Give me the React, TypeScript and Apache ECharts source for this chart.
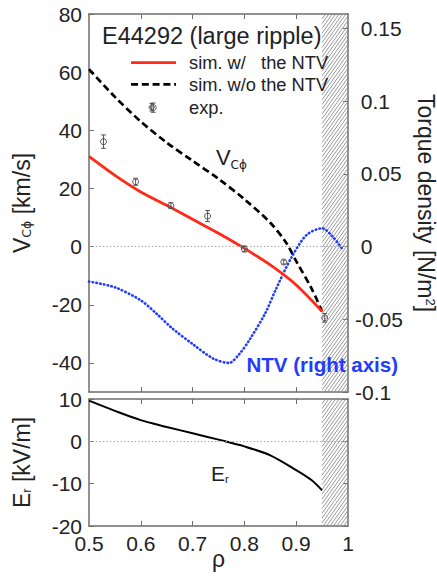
import { useEffect, useRef } from 'react';
import * as echarts from 'echarts';

// ---------- data ----------
const RHO_SIM = [0.5, 0.55, 0.6, 0.65, 0.7, 0.75, 0.8, 0.85, 0.9, 0.95];
const V_WITH_NTV = [31, 24.5, 18.8, 14.2, 9.4, 4.6, -0.6, -6.3, -13.2, -22.3];

const RHO_NO = [0.5, 0.55, 0.6, 0.65, 0.7, 0.75, 0.8, 0.85, 0.88, 0.9, 0.93, 0.95];
const V_WITHOUT_NTV = [61, 51.5, 43, 35.8, 29.5, 23.3, 16.3, 8.2, 1.5, -5, -14.5, -22.3];

const RHO_NTV = [0.5, 0.55, 0.6, 0.63, 0.66, 0.7, 0.74, 0.77, 0.79, 0.81, 0.84, 0.86, 0.89, 0.92, 0.95, 0.97, 0.99];
const NTV = [-0.024, -0.028, -0.037, -0.046, -0.056, -0.067, -0.077, -0.08, -0.074, -0.064, -0.046, -0.03, -0.008, 0.008, 0.0126, 0.007, -0.002];

const EXP_RHO = [0.528, 0.59, 0.624, 0.658, 0.729, 0.8, 0.876, 0.955];
const EXP_V = [36.1, 22.3, 47.8, 14.1, 10.5, -0.8, -5.3, -24.5];
const EXP_ERR = [2.3, 1.2, 1.6, 1.0, 1.9, 1.0, 0.7, 1.5];

const RHO_ER = [0.5, 0.55, 0.6, 0.65, 0.7, 0.75, 0.8, 0.85, 0.9, 0.93, 0.95];
const ER = [9.6, 7.2, 5.0, 3.4, 1.9, 0.4, -1.2, -3.3, -6.8, -9.2, -11.6];

const HATCH_RANGE = [0.95, 1];

const V_TICKS = [-40, -20, 0, 20, 40, 60, 80];
const T_TICKS = [-0.1, -0.05, 0, 0.05, 0.1, 0.15];
const ER_TICKS = [-20, -10, 0, 10];
const RHO_TICKS = [0.6, 0.7, 0.8, 0.9];

// ---------- style ----------
const FONT = '"Liberation Sans", Arial, Helvetica, sans-serif';
const SUBFONT = '"DejaVu Sans", "Liberation Sans", sans-serif';
const TXT = '#222';
const AX = '#6e6e6e';
const RED = '#ff2a17';
const BLUE = '#1f3cff';
const TICK_FS = 21;
const NAME_FS = 23;
const SMOOTH = 0.3;

const zip = (a: number[], b: number[]) => a.map((x, i) => [x, b[i]]);

const hatchItem = (params: any, api: any) => {
  const cs = params.coordSys;
  const x0 = api.coord([api.value(0), 0])[0];
  const x1 = api.coord([api.value(1), 0])[0];
  const y0 = cs.y;
  const y1 = cs.y + cs.height;
  const k = 1.4;
  const step = 3.4;
  const children: any[] = [];
  for (let c = y0 + k * x0; c <= y1 + k * x1 + 0.01; c += step * k) {
    const pa = Math.max(x0, (c - y1) / k);
    const pb = Math.min(x1, (c - y0) / k);
    if (pb <= pa) continue;
    children.push({
      type: 'line',
      shape: { x1: pa, y1: c - k * pa, x2: pb, y2: c - k * pb },
      style: { stroke: '#8c8c8c', lineWidth: 0.9 },
    });
  }
  return { type: 'group', children };
};

const expItem = (params: any, api: any) => {
  const x = api.value(0);
  const v = api.value(1);
  const e = api.value(2);
  const c = api.coord([x, v]);
  const t = api.coord([x, v + e]);
  const b = api.coord([x, v - e]);
  const col = '#555';
  return {
    type: 'group',
    children: [
      { type: 'line', shape: { x1: c[0], y1: t[1], x2: c[0], y2: b[1] }, style: { stroke: col, lineWidth: 1 } },
      { type: 'line', shape: { x1: c[0] - 2.4, y1: t[1], x2: c[0] + 2.4, y2: t[1] }, style: { stroke: col, lineWidth: 1 } },
      { type: 'line', shape: { x1: c[0] - 2.4, y1: b[1], x2: c[0] + 2.4, y2: b[1] }, style: { stroke: col, lineWidth: 1 } },
      { type: 'circle', shape: { cx: c[0], cy: c[1], r: 3 }, style: { stroke: col, fill: 'none', lineWidth: 1 } },
    ],
  };
};

const xAxisBase = (gridIndex: number, position: string, showLabel: boolean) => ({
  type: 'value',
  gridIndex,
  position,
  min: 0.5,
  max: 1,
  interval: 0.1,
  axisLine: { show: true, onZero: false, lineStyle: { color: AX, width: 1.5 } },
  axisTick: { show: true, inside: true, length: 5, customValues: RHO_TICKS, lineStyle: { color: AX, width: 1 } },
  axisLabel: {
    show: showLabel,
    margin: 7,
    fontSize: TICK_FS,
    fontFamily: FONT,
    color: TXT,
    formatter: (v: number) => String(Math.round(v * 10) / 10),
  },
  splitLine: { show: false },
});

export default function App() {
  const ref = useRef<HTMLDivElement>(null);

  useEffect(() => {
    if (!ref.current) return;
    const chart = echarts.init(ref.current, undefined, { renderer: 'svg' });

    const option: any = {
      animation: false,
      backgroundColor: '#ffffff',
      grid: [
        { left: 89, top: 14, width: 259, height: 378, outerBoundsMode: 'none' },
        { left: 89, top: 399, width: 259, height: 127, outerBoundsMode: 'none' },
      ],
      xAxis: [
        xAxisBase(0, 'bottom', false),
        xAxisBase(0, 'top', false),
        {
          ...xAxisBase(1, 'bottom', true),
          name: 'ρ',
          nameLocation: 'middle',
          nameGap: 21,
          nameMoveOverlap: false,
          nameTextStyle: { fontSize: NAME_FS, fontFamily: FONT, color: TXT },
        },
        xAxisBase(1, 'top', false),
      ],
      yAxis: [
        {
          type: 'value',
          gridIndex: 0,
          position: 'left',
          min: -50,
          max: 80,
          axisLine: { show: true, onZero: false, lineStyle: { color: AX, width: 1.5 } },
          axisTick: { show: true, inside: true, length: 5, customValues: V_TICKS, lineStyle: { color: AX } },
          axisLabel: {
            customValues: V_TICKS,
            margin: 7,
            fontSize: TICK_FS,
            fontFamily: FONT,
            color: TXT,
            formatter: (v: number) => String(v),
          },
          splitLine: { show: false },
          name: '{v|V}{s|Cϕ}{v| [km/s]}',
          nameLocation: 'middle',
          nameGap: 56,
          nameMoveOverlap: false,
          nameTextStyle: {
            fontSize: NAME_FS,
            fontFamily: FONT,
            color: TXT,
            rich: {
              v: { fontSize: NAME_FS, fontFamily: FONT, color: TXT },
              s: { fontSize: 12.5, fontFamily: SUBFONT, color: TXT, verticalAlign: 'bottom', lineHeight: 6 },
            },
          },
        },
        {
          type: 'value',
          gridIndex: 0,
          position: 'right',
          min: -0.1,
          max: 0.16,
          axisLine: { show: true, onZero: false, lineStyle: { color: AX, width: 1.5 } },
          axisTick: { show: true, inside: true, length: 5, customValues: T_TICKS, lineStyle: { color: AX } },
          axisLabel: {
            customValues: T_TICKS,
            margin: 7,
            fontSize: TICK_FS,
            fontFamily: FONT,
            color: TXT,
            formatter: (v: number) => {
              const s = String(Math.round(v * 100) / 100);
              return v >= 0 ? '\u00a0' + s : s;
            },
          },
          splitLine: { show: false },
          name: '{v|Torque density [N/m}{p|2}{v|]}',
          nameLocation: 'middle',
          nameRotate: -90,
          nameGap: 66,
          nameMoveOverlap: false,
          nameTextStyle: {
            fontSize: NAME_FS,
            fontFamily: FONT,
            color: TXT,
            rich: {
              v: { fontSize: NAME_FS, fontFamily: FONT, color: TXT },
              p: { fontSize: 13, fontFamily: FONT, color: TXT, verticalAlign: 'top', lineHeight: 8 },
            },
          },
        },
        {
          type: 'value',
          gridIndex: 1,
          position: 'left',
          min: -20,
          max: 10,
          interval: 10,
          axisLine: { show: true, onZero: false, lineStyle: { color: AX, width: 1.5 } },
          axisTick: { show: true, inside: true, length: 5, customValues: ER_TICKS, lineStyle: { color: AX } },
          axisLabel: {
            customValues: ER_TICKS,
            margin: 7,
            fontSize: TICK_FS,
            fontFamily: FONT,
            color: TXT,
            formatter: (v: number) => String(v),
          },
          splitLine: { show: false },
          name: '{v|E}{s|r}{v| [kV/m]}',
          nameLocation: 'middle',
          nameGap: 56,
          nameMoveOverlap: false,
          nameTextStyle: {
            fontSize: NAME_FS,
            fontFamily: FONT,
            color: TXT,
            rich: {
              v: { fontSize: NAME_FS, fontFamily: FONT, color: TXT },
              s: { fontSize: 13, fontFamily: FONT, color: TXT, verticalAlign: 'bottom', lineHeight: 6 },
            },
          },
        },
        {
          type: 'value',
          gridIndex: 1,
          position: 'right',
          min: -20,
          max: 10,
          interval: 10,
          axisLine: { show: true, onZero: false, lineStyle: { color: AX, width: 1.5 } },
          axisTick: { show: true, inside: true, length: 5, customValues: ER_TICKS, lineStyle: { color: AX } },
          axisLabel: { show: false },
          splitLine: { show: false },
        },
      ],
      series: [
        {
          type: 'custom',
          xAxisIndex: 0,
          yAxisIndex: 0,
          renderItem: hatchItem,
          data: [HATCH_RANGE],
          encode: { x: [0, 1] },
          silent: true,
          z: 1,
        },
        {
          type: 'custom',
          xAxisIndex: 2,
          yAxisIndex: 2,
          renderItem: hatchItem,
          data: [HATCH_RANGE],
          encode: { x: [0, 1] },
          silent: true,
          z: 1,
        },
        {
          name: 'sim. w/o the NTV',
          type: 'line',
          xAxisIndex: 0,
          yAxisIndex: 0,
          data: zip(RHO_NO, V_WITHOUT_NTV),
          smooth: SMOOTH,
          showSymbol: false,
          lineStyle: { color: '#000', width: 2.7, type: [7, 3.8] },
          z: 3,
        },
        {
          name: 'sim. w/ the NTV',
          type: 'line',
          xAxisIndex: 0,
          yAxisIndex: 0,
          data: zip(RHO_SIM, V_WITH_NTV),
          smooth: SMOOTH,
          showSymbol: false,
          lineStyle: { color: RED, width: 2.8 },
          z: 4,
          markLine: {
            silent: true,
            symbol: 'none',
            label: { show: false },
            lineStyle: { color: '#aaa', width: 1, type: [1.5, 2] },
            data: [{ yAxis: 0 }],
          },
        },
        {
          name: 'NTV',
          type: 'line',
          xAxisIndex: 0,
          yAxisIndex: 1,
          data: zip(RHO_NTV, NTV),
          smooth: SMOOTH,
          showSymbol: false,
          lineStyle: { color: BLUE, width: 2.6, type: [0.5, 3.3], cap: 'round' },
          z: 3,
        },
        {
          name: 'exp.',
          type: 'custom',
          xAxisIndex: 0,
          yAxisIndex: 0,
          renderItem: expItem,
          data: EXP_RHO.map((r, i) => [r, EXP_V[i], EXP_ERR[i]]),
          encode: { x: 0, y: 1 },
          z: 5,
        },
        {
          name: 'Er',
          type: 'line',
          xAxisIndex: 2,
          yAxisIndex: 2,
          data: zip(RHO_ER, ER),
          smooth: SMOOTH,
          showSymbol: false,
          lineStyle: { color: '#000', width: 2 },
          z: 4,
          markLine: {
            silent: true,
            symbol: 'none',
            label: { show: false },
            lineStyle: { color: '#aaa', width: 1, type: [1.5, 2] },
            data: [{ yAxis: 0 }],
          },
        },
      ],
      graphic: [
        {
          type: 'text',
          x: 102,
          y: 36,
          style: { text: 'E44292 (large ripple)', fontSize: 23.5, fontFamily: FONT, fill: TXT, textVerticalAlign: 'middle' },
          z: 10,
        },
        {
          type: 'line',
          shape: { x1: 131, y1: 62.7, x2: 176, y2: 62.7 },
          style: { stroke: RED, lineWidth: 2.8 },
          z: 10,
        },
        {
          type: 'line',
          shape: { x1: 131, y1: 84.3, x2: 176, y2: 84.3 },
          style: { stroke: '#000', lineWidth: 2.7, lineDash: [7, 3.8] },
          z: 10,
        },
        {
          type: 'group',
          z: 10,
          children: [
            { type: 'line', shape: { x1: 151.7, y1: 103.5, x2: 151.7, y2: 111 }, style: { stroke: '#555', lineWidth: 1 } },
            { type: 'line', shape: { x1: 149.5, y1: 103.5, x2: 153.9, y2: 103.5 }, style: { stroke: '#555', lineWidth: 1 } },
            { type: 'line', shape: { x1: 149.5, y1: 111, x2: 153.9, y2: 111 }, style: { stroke: '#555', lineWidth: 1 } },
            { type: 'circle', shape: { cx: 151.7, cy: 107.3, r: 2.6 }, style: { stroke: '#555', fill: 'none', lineWidth: 1 } },
          ],
        },
        {
          type: 'text',
          x: 189,
          y: 62.7,
          style: { text: 'sim. w/\u00a0\u00a0\u00a0the NTV', fontSize: 18.3, fontFamily: FONT, fill: TXT, textVerticalAlign: 'middle' },
          z: 10,
        },
        {
          type: 'text',
          x: 189,
          y: 84.3,
          style: { text: 'sim. w/o the NTV', fontSize: 18.3, fontFamily: FONT, fill: TXT, textVerticalAlign: 'middle' },
          z: 10,
        },
        {
          type: 'text',
          x: 189,
          y: 107.3,
          style: { text: 'exp.', fontSize: 18.3, fontFamily: FONT, fill: TXT, textVerticalAlign: 'middle' },
          z: 10,
        },
        {
          type: 'text',
          x: 216,
          y: 157.5,
          style: { text: 'V', fontSize: 22, fontFamily: FONT, fill: TXT, textVerticalAlign: 'middle' },
          z: 10,
        },
        {
          type: 'text',
          x: 230.5,
          y: 165,
          style: { text: 'Cϕ', fontSize: 12, fontFamily: SUBFONT, fill: TXT, textVerticalAlign: 'middle' },
          z: 10,
        },
        {
          type: 'text',
          x: 246.5,
          y: 364,
          style: { text: 'NTV (right axis)', fontSize: 20.5, fontWeight: 'bold', fontFamily: FONT, fill: BLUE, textVerticalAlign: 'middle' },
          z: 10,
        },
        {
          type: 'text',
          x: 211,
          y: 473.5,
          style: { text: 'E', fontSize: 21, fontFamily: FONT, fill: TXT, textVerticalAlign: 'middle' },
          z: 10,
        },
        {
          type: 'text',
          x: 225,
          y: 479,
          style: { text: 'r', fontSize: 11.5, fontFamily: FONT, fill: TXT, textVerticalAlign: 'middle' },
          z: 10,
        },
      ],
    };

    chart.setOption(option);
    return () => chart.dispose();
  }, []);

  return (
    <div
      ref={ref}
      style={{ position: 'absolute', left: 0, top: 0, width: 437, height: 576, background: '#fff' }}
    />
  );
}
